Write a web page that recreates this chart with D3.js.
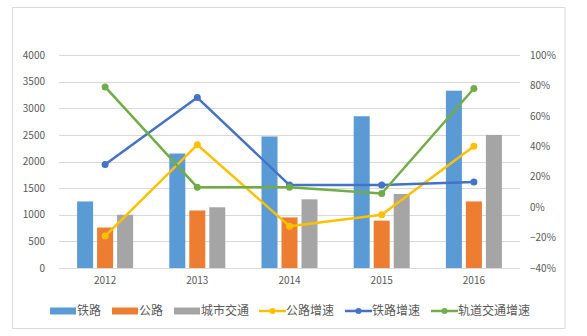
<!DOCTYPE html>
<html>
<head>
<meta charset="utf-8">
<script src="https://cdn.jsdelivr.net/npm/d3@7"></script>
<style>
  html, body { margin: 0; padding: 0; background: #fff; }
  svg { display: block; }
  text { font-family: "Noto Sans CJK SC", "Noto Sans", sans-serif; fill: #595959; }
</style>
</head>
<body>
<svg id="chart" width="587" height="336"></svg>
<script>
const years = ["2012", "2013", "2014", "2015", "2016"];
const barSeries = ["铁路", "公路", "城市交通"];
const railway = [1250, 2150, 2470, 2850, 3330];
const highway = [760, 1080, 950, 890, 1250];
const urban = [1000, 1140, 1290, 1390, 2500];
const lineSeries = ["公路增速", "铁路增速", "轨道交通增速"];
const highwayGrowth = [-0.19, 0.41, -0.125, -0.05, 0.40];
const railwayGrowth = [0.28, 0.72, 0.145, 0.145, 0.165];
const transitGrowth = [0.79, 0.13, 0.13, 0.09, 0.78];
const leftTicks = [0, 500, 1000, 1500, 2000, 2500, 3000, 3500, 4000];
const rightTicks = [-0.4, -0.2, 0, 0.2, 0.4, 0.6, 0.8, 1.0];

const barColors = ["#5B9BD5", "#ED7D31", "#A5A5A5"];
const lineColors = ["#FFC000", "#4472C4", "#70AD47"];
const barValues = [railway, highway, urban];
const lineValues = [highwayGrowth, railwayGrowth, transitGrowth];

const svg = d3.select("#chart");

// frame
svg.append("rect").attr("x", 12.5).attr("y", 7.5).attr("width", 552.5).attr("height", 321)
  .attr("fill", "#fff").attr("stroke", "#d9d9d9").attr("stroke-width", 1);

const plotL = 59, plotR = 520, plotT = 55, plotB = 268;

const x = d3.scaleBand().domain(years).range([plotL, plotR]);
const xInner = d3.scaleBand().domain(barSeries).range([-28, 28]).paddingInner(0.2);
const yL = d3.scaleLinear().domain([0, 4000]).range([plotB, plotT]);
const yR = d3.scaleLinear().domain([-0.4, 1.0]).range([plotB, plotT]);

// gridlines
svg.append("g").selectAll("line").data(leftTicks).join("line")
  .attr("x1", plotL).attr("x2", plotR)
  .attr("y1", d => Math.round(yL(d)) + 0.5).attr("y2", d => Math.round(yL(d)) + 0.5)
  .attr("stroke", "#d9d9d9").attr("stroke-width", 1);

// left axis
const leftAxis = d3.axisLeft(yL).tickValues(leftTicks).tickSize(0).tickPadding(14).tickFormat(d3.format("d"));
const gL = svg.append("g").attr("transform", `translate(${plotL},0)`).call(leftAxis);
gL.select(".domain").remove();
gL.selectAll("text").style("font-size", "10px").attr("fill", "#595959");

// right axis
const rightAxis = d3.axisRight(yR).tickValues(rightTicks).tickSize(0).tickPadding(10).tickFormat(d3.format(".0%"));
const gR = svg.append("g").attr("transform", `translate(${plotR},0)`).call(rightAxis);
gR.select(".domain").remove();
gR.selectAll("text").style("font-size", "10px").attr("fill", "#595959");

// bottom axis
const bottomAxis = d3.axisBottom(x).tickSize(0).tickPadding(9);
const gB = svg.append("g").attr("transform", `translate(0,${plotB})`).call(bottomAxis);
gB.select(".domain").remove();
gB.selectAll("text").style("font-size", "10px").attr("fill", "#595959");

// bars
barSeries.forEach((s, si) => {
  svg.append("g").selectAll("rect").data(years).join("rect")
    .attr("x", d => x(d) + x.bandwidth() / 2 + xInner(s))
    .attr("width", xInner.bandwidth())
    .attr("y", (d, i) => yL(barValues[si][i]))
    .attr("height", (d, i) => yL(0) - yL(barValues[si][i]))
    .attr("fill", barColors[si]);
});

// lines
lineSeries.forEach((s, si) => {
  const pts = years.map((d, i) => [x(d) + x.bandwidth() / 2, yR(lineValues[si][i])]);
  svg.append("path").datum(pts)
    .attr("d", d3.line())
    .attr("fill", "none").attr("stroke", lineColors[si]).attr("stroke-width", 2.5)
    .attr("stroke-linejoin", "round");
  svg.append("g").selectAll("circle").data(pts).join("circle")
    .attr("cx", d => d[0]).attr("cy", d => d[1]).attr("r", 3.5)
    .attr("fill", lineColors[si]);
});

// legend
const legendY = 311;
const legendItems = [
  { name: "铁路", type: "bar", color: barColors[0], x: 50 },
  { name: "公路", type: "bar", color: barColors[1], x: 112 },
  { name: "城市交通", type: "bar", color: barColors[2], x: 174 },
  { name: "公路增速", type: "line", color: lineColors[0], x: 259 },
  { name: "铁路增速", type: "line", color: lineColors[1], x: 345 },
  { name: "轨道交通增速", type: "line", color: lineColors[2], x: 431 }
];
const lg = svg.append("g");
legendItems.forEach(it => {
  if (it.type === "bar") {
    lg.append("rect").attr("x", it.x).attr("y", legendY - 3.5).attr("width", 26).attr("height", 7).attr("fill", it.color);
  } else {
    lg.append("line").attr("x1", it.x).attr("x2", it.x + 27).attr("y1", legendY).attr("y2", legendY)
      .attr("stroke", it.color).attr("stroke-width", 2.5);
    lg.append("circle").attr("cx", it.x + 13.5).attr("cy", legendY).attr("r", 3).attr("fill", it.color);
  }
  lg.append("text").attr("x", it.x + 27).attr("y", legendY).attr("dy", "0.35em")
    .style("font-size", "12px").text(it.name);
});
</script>
</body>
</html>
